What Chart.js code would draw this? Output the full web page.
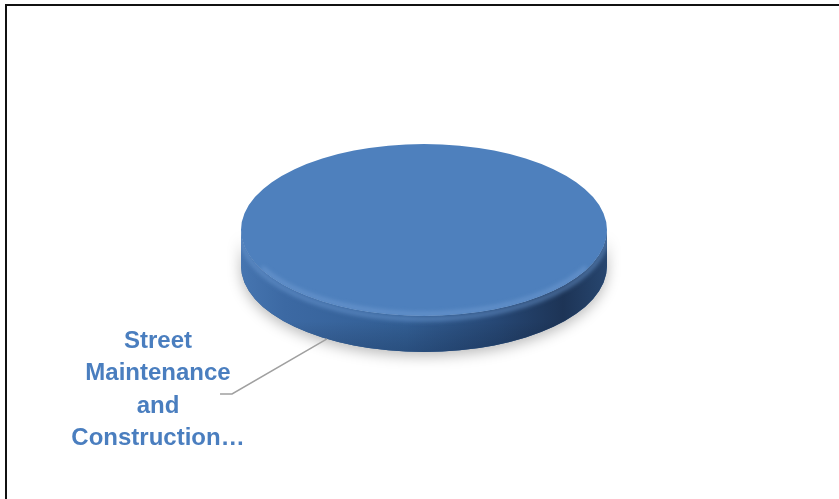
<!DOCTYPE html>
<html>
<head>
<meta charset="utf-8">
<script src="https://cdn.jsdelivr.net/npm/chart.js@4/dist/chart.umd.min.js"></script>
<style>
  body { margin: 0; background: #fff; }
  #wrap { position: relative; width: 839px; height: 499px; overflow: hidden; }
  #frame { position: absolute; left: 5px; top: 4px; right: -10px; bottom: -10px;
           border-left: 2px solid #111; border-top: 2px solid #111; pointer-events: none; }
  canvas { display: block; }
</style>
</head>
<body>
<div id="wrap">
  <canvas id="myChart" width="839" height="499"></canvas>
  <div id="frame"></div>
</div>
<script>
const categorias = ['Street Maintenance and Construction…'];
const valores = [100];
const cores = ['#4e80bd'];

// aparência do "disco" 3D
const achatamento = 0.47;   // ry / rx
const espessura = 36;       // altura da lateral em px
const anguloRotulo = 122;   // graus, onde a linha de chamada toca a borda

function quebrarTexto(ctx, texto, larguraMax) {
    const palavras = texto.split(' ');
    const linhas = [];
    let atual = '';
    palavras.forEach(p => {
        const teste = atual ? atual + ' ' + p : p;
        if (atual && ctx.measureText(teste).width > larguraMax) {
            linhas.push(atual);
            atual = p;
        } else {
            atual = teste;
        }
    });
    if (atual) linhas.push(atual);
    return linhas;
}

// intervalos do arco que ficam na frente (0..PI no espaço da elipse)
function partesFrontais(ini, fim) {
    const partes = [];
    for (let k = -1; k <= 1; k++) {
        const a = Math.max(ini, 0 + k * 2 * Math.PI);
        const b = Math.min(fim, Math.PI + k * 2 * Math.PI);
        if (b > a) partes.push([a, b]);
    }
    return partes;
}

const pizza3d = {
    id: 'pizza3d',
    beforeDatasetsDraw(chart) {
        const ctx = chart.ctx;
        const arcos = chart.getDatasetMeta(0).data;
        arcos.forEach((arco, i) => {
            const cx = arco.x, cy = arco.y;
            const rx = arco.outerRadius, ry = rx * achatamento;
            partesFrontais(arco.startAngle, arco.endAngle).forEach(([a, b]) => {
                const caminho = () => {
                    ctx.beginPath();
                    ctx.ellipse(cx, cy + espessura, rx, ry, 0, a, b, false);
                    ctx.lineTo(cx + rx * Math.cos(b), cy + ry * Math.sin(b));
                    ctx.ellipse(cx, cy, rx, ry, 0, b, a, true);
                    ctx.closePath();
                };
                // sombra suave embaixo
                ctx.save();
                ctx.shadowColor = 'rgba(0,0,0,0.28)';
                ctx.shadowBlur = 14;
                ctx.shadowOffsetY = 4;
                caminho();
                ctx.fillStyle = '#2f5a8f';
                ctx.fill();
                ctx.restore();

                ctx.save();
                caminho();
                const g = ctx.createLinearGradient(cx - rx, 0, cx + rx, 0);
                g.addColorStop(0, '#4675b0');
                g.addColorStop(0.12, '#3c69a3');
                g.addColorStop(0.45, '#325e94');
                g.addColorStop(0.7, '#264774');
                g.addColorStop(0.88, '#1d3456');
                g.addColorStop(1, '#27466f');
                ctx.fillStyle = g;
                ctx.fill();
                ctx.clip();
                // realce perto da borda de cima da lateral
                ctx.strokeStyle = 'rgba(110,155,212,0.55)';
                ctx.lineWidth = 5;
                ctx.filter = 'blur(2px)';
                ctx.beginPath();
                ctx.ellipse(cx, cy + 3, rx, ry, 0, a, b, false);
                ctx.stroke();
                ctx.filter = 'none';
                // escurece um pouco a base
                const v = ctx.createLinearGradient(0, cy, 0, cy + ry + espessura);
                v.addColorStop(0, 'rgba(0,0,0,0)');
                v.addColorStop(0.75, 'rgba(0,0,0,0)');
                v.addColorStop(1, 'rgba(0,10,30,0.18)');
                ctx.fillStyle = v;
                ctx.fillRect(cx - rx, cy, rx * 2, ry + espessura + 2);
                ctx.restore();
            });
        });
        // o topo é desenhado pelo próprio Chart.js, achatado
        const ref = arcos[0];
        ctx.save();
        ctx.translate(0, ref.y);
        ctx.scale(1, achatamento);
        ctx.translate(0, -ref.y);
    },
    afterDatasetsDraw(chart) {
        const ctx = chart.ctx;
        ctx.restore();
        // bisel claro na borda da frente do topo
        const arco = chart.getDatasetMeta(0).data[0];
        const rx = arco.outerRadius, ry = rx * achatamento;
        ctx.save();
        ctx.beginPath();
        ctx.ellipse(arco.x, arco.y, rx, ry, 0, 0, 2 * Math.PI);
        ctx.clip();
        ctx.strokeStyle = 'rgba(125,165,220,0.5)';
        ctx.lineWidth = 4;
        ctx.filter = 'blur(2px)';
        ctx.beginPath();
        ctx.ellipse(arco.x, arco.y - 1, rx - 1, ry - 1, 0, 0.15 * Math.PI, 0.85 * Math.PI);
        ctx.stroke();
        ctx.restore();
    },
    afterDraw(chart) {
        const ctx = chart.ctx;
        const arco = chart.getDatasetMeta(0).data[0];
        const rx = arco.outerRadius, ry = rx * achatamento;
        const ang = anguloRotulo * Math.PI / 180;
        const px = arco.x + rx * Math.cos(ang);
        const py = arco.y + espessura + ry * Math.sin(ang);
        const cotoX = px - 95, cotoY = py + 55;

        ctx.save();
        ctx.strokeStyle = '#a0a0a0';
        ctx.lineWidth = 1.5;
        ctx.beginPath();
        ctx.moveTo(px, py);
        ctx.lineTo(cotoX, cotoY);
        ctx.lineTo(cotoX - 12, cotoY);
        ctx.stroke();

        ctx.font = 'bold 24px "Liberation Sans", Arial, sans-serif';
        ctx.fillStyle = '#4a7ebf';
        ctx.textAlign = 'center';
        ctx.textBaseline = 'alphabetic';
        const linhas = quebrarTexto(ctx, chart.data.labels[0], 150);
        const centroX = cotoX - 74;
        let y = cotoY - 46;
        linhas.forEach(l => {
            ctx.fillText(l, centroX, y);
            y += 32.3;
        });
        ctx.restore();
    }
};

const config = {
    type: 'pie',
    data: {
        labels: categorias,
        datasets: [{
            data: valores,
            backgroundColor: cores,
            borderWidth: 0
        }]
    },
    options: {
        responsive: false,
        animation: false,
        layout: {
            padding: { left: 241, right: 232, top: 47, bottom: 86 }
        },
        plugins: {
            legend: { display: false },
            tooltip: { enabled: false }
        }
    },
    plugins: [pizza3d]
};

const ctx = document.getElementById('myChart').getContext('2d');
new Chart(ctx, config);
</script>
</body>
</html>
